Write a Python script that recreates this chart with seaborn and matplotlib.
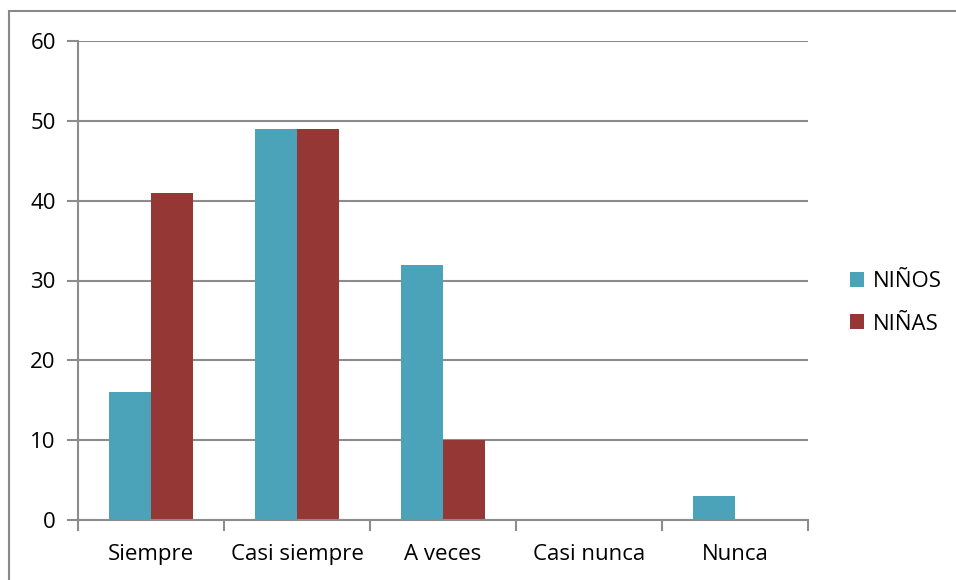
import matplotlib
matplotlib.use("Agg")
import matplotlib.pyplot as plt
import seaborn as sns
import pandas as pd
from matplotlib.patches import Rectangle, Patch

categories = ["Siempre", "Casi siempre", "A veces", "Casi nunca", "Nunca"]
ninos = [16, 49, 32, 0, 3]
ninas = [41, 49, 10, 0, 0]
series_names = ["NIÑOS", "NIÑAS"]
colors = ["#4BA3BA", "#953735"]

df = pd.DataFrame({
    "cat": categories * 2,
    "val": ninos + ninas,
    "grp": [series_names[0]] * len(categories) + [series_names[1]] * len(categories),
})

sns.set_style("white")
plt.rcParams["font.family"] = ["Open Sans", "DejaVu Sans"]
plt.rcParams["text.color"] = "black"
plt.rcParams["xtick.bottom"] = True
plt.rcParams["ytick.left"] = True

W, H = 956, 580
fig = plt.figure(figsize=(W / 100, H / 100), dpi=100)
fig.patch.set_facecolor("white")
fig.patches.append(Rectangle((8.5 / W, -0.1), 1.2, (H - 11) / H + 0.1, transform=fig.transFigure,
                             fill=False, edgecolor="#888888", linewidth=1.5))

ax = fig.add_axes([78 / W, (H - 520) / H, 730 / W, 479 / H])
sns.barplot(data=df, x="cat", y="val", hue="grp", palette=colors, width=0.575,
            saturation=1, ax=ax, legend=False, linewidth=0)

ax.set_ylim(0, 60)
ax.set_xlim(-0.5, 4.5)
ax.set_yticks(range(0, 61, 10))
ax.yaxis.grid(True, color="#8c8c8c", linewidth=1.5)
ax.set_axisbelow(True)
for s in ["top", "right"]:
    ax.spines[s].set_visible(False)
for s in ["left", "bottom"]:
    ax.spines[s].set_color("#8c8c8c")
    ax.spines[s].set_linewidth(1.5)
ax.set_xlabel("")
ax.set_ylabel("")

# category boundaries as major ticks (no labels), labels on minor ticks at centers
ax.set_xticks([i - 0.5 for i in range(len(categories) + 1)])
ax.set_xticklabels([""] * (len(categories) + 1))
ax.set_xticks(range(len(categories)), minor=True)
ax.set_xticklabels(categories, minor=True)
ax.tick_params(axis="x", which="major", bottom=True, length=8, width=1.5, color="#8c8c8c",
               direction="out")
ax.tick_params(axis="x", which="minor", bottom=True, length=0, labelsize=16, pad=17,
               labelcolor="black")
ax.tick_params(axis="y", which="major", left=True, length=8, width=1.5, color="#8c8c8c",
               direction="out", labelsize=16, pad=8, labelcolor="black")
for t in ax.xaxis.get_major_ticks():
    t.tick1line.set_clip_on(False)

handles = [Patch(facecolor=c, edgecolor="none", label=n) for c, n in zip(colors, series_names)]
fig.legend(handles=handles, loc="center left", bbox_to_anchor=(830 / W, 1 - 303 / H),
           frameon=False, fontsize=16, handlelength=0.65, handleheight=0.65,
           handletextpad=0.4, labelspacing=0.95)

fig.savefig("out.png", dpi=100, facecolor="white")
